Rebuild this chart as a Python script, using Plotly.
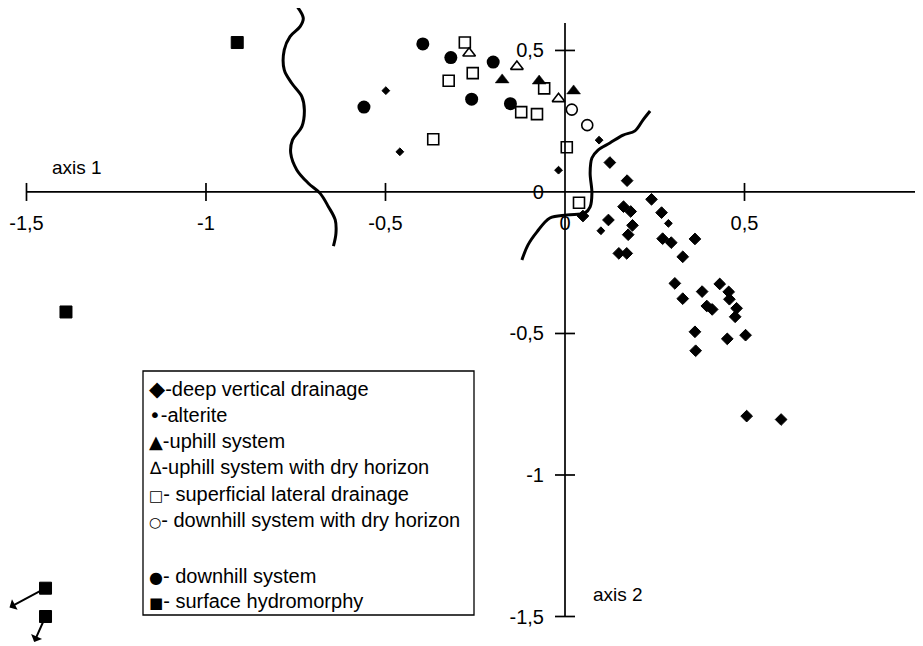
import plotly.graph_objects as go

# ---------------- data ----------------
deep_x = [0.125, 0.173, 0.241, 0.163, 0.183, 0.269, 0.050, 0.121, 0.188, 0.176, 0.272, 0.296,
          0.362, 0.150, 0.172, 0.328, 0.306, 0.328, 0.382, 0.395, 0.410, 0.431, 0.456, 0.458,
          0.478, 0.474, 0.362, 0.364, 0.452, 0.503, 0.506, 0.602]
deep_y = [0.104, 0.040, -0.026, -0.052, -0.069, -0.073, -0.085, -0.099, -0.118, -0.151, -0.165, -0.179,
          -0.166, -0.217, -0.217, -0.229, -0.323, -0.377, -0.352, -0.403, -0.415, -0.325, -0.353, -0.379,
          -0.411, -0.441, -0.494, -0.561, -0.519, -0.506, -0.792, -0.804]

alterite_x = [-0.499, -0.460, 0.095, -0.018, 0.100, 0.288]
alterite_y = [0.358, 0.142, 0.183, 0.077, -0.137, -0.111]

uphill_x = [-0.175, -0.072, 0.024]
uphill_y = [0.396, 0.392, 0.357]

uphill_dry_x = [-0.267, -0.134, -0.018]
uphill_dry_y = [0.490, 0.443, 0.329]

superficial_x = [-0.279, -0.257, -0.324, -0.058, -0.122, -0.078, -0.367, 0.005, 0.039]
superficial_y = [0.528, 0.420, 0.393, 0.366, 0.282, 0.275, 0.186, 0.158, -0.038]

downhill_dry_x = [0.019, 0.062]
downhill_dry_y = [0.291, 0.236]

downhill_x = [-0.396, -0.318, -0.200, -0.560, -0.260, -0.152]
downhill_y = [0.523, 0.475, 0.459, 0.300, 0.328, 0.312]

hydro_x = [-0.913, -1.390, -1.447, -1.447]
hydro_y = [0.528, -0.424, -1.400, -1.500]
hydro_offscale = [2, 3]          # points drawn at the border, real value beyond

boundary1_x = [-0.745, -0.729, -0.738, -0.766, -0.782, -0.782, -0.761, -0.733, -0.726, -0.733,
               -0.759, -0.764, -0.747, -0.715, -0.682, -0.659, -0.640, -0.638, -0.645]
boundary1_y = [0.653, 0.614, 0.584, 0.549, 0.502, 0.431, 0.384, 0.337, 0.290, 0.231,
               0.184, 0.137, 0.078, 0.031, -0.005, -0.052, -0.099, -0.146, -0.191]

boundary2_x = [0.237, 0.217, 0.195, 0.162, 0.125, 0.092, 0.075, 0.070, 0.075, 0.070, 0.056,
               0.006, -0.042, -0.078, -0.103, -0.120]
boundary2_y = [0.286, 0.254, 0.216, 0.201, 0.173, 0.148, 0.120, 0.067, -0.004, -0.053, -0.074,
               -0.081, -0.092, -0.141, -0.187, -0.240]

x_tickvals = [-1.5, -1, -0.5, 0, 0.5]
x_ticktext = ["-1,5", "-1", "-0,5", "0", "0,5"]
y_tickvals = [0.5, 0, -0.5, -1, -1.5]
y_ticktext = ["0,5", "0", "-0,5", "-1", "-1,5"]

legend_symbols = ["◆", "•", "▲", "∆", "□", "○", "●", "■"]
legend_labels = ["-deep vertical drainage", "-alterite", "-uphill system",
                 "-uphill system with dry horizon", "- superficial lateral drainage",
                 "- downhill system with dry horizon", "- downhill system",
                 "- surface hydromorphy"]

# ---------------- layout constants ----------------
W, H = 923, 646
OFF = 8                      # page body margin: figure pixel = page pixel - OFF
X_RANGE = [-1.5515, 1.0195]
Y_RANGE = [-1.6325, 0.650]
FONT = "Liberation Sans, Arial, sans-serif"
SYMFONT = "DejaVu Sans"
INK = "black"
sym_sizes = [21, 20, 18, 17, 15, 14, 16, 15]

def px(x):   # page pixel -> paper fraction (x)
    return (x - OFF) / W

def py(y):   # page pixel -> paper fraction (y)
    return 1 - (y - OFF) / H

fig = go.Figure()

# boundary curves
for bx, by in [(boundary1_x, boundary1_y), (boundary2_x, boundary2_y)]:
    fig.add_trace(go.Scatter(x=bx, y=by, mode="lines", line=dict(color=INK, width=3, shape="spline"),
                             hoverinfo="skip", showlegend=False))

def add_points(x, y, symbol, size, lw=0, name=""):
    fig.add_trace(go.Scatter(
        x=x, y=y, mode="markers", name=name, showlegend=False, cliponaxis=False,
        marker=dict(symbol=symbol, size=size, color=INK,
                    line=dict(color=INK, width=lw))))

add_points(deep_x, deep_y, "diamond", 9, 1, legend_labels[0])
add_points(alterite_x, alterite_y, "diamond", 6, 1, legend_labels[1])
add_points(uphill_x, uphill_y, "triangle-up", 12, 0.5, legend_labels[2])
add_points(uphill_dry_x, uphill_dry_y, "triangle-up-open", 11, 1.6, legend_labels[3])
add_points(superficial_x, superficial_y, "square-open", 11, 1.6, legend_labels[4])
add_points(downhill_dry_x, downhill_dry_y, "circle-open", 11, 1.6, legend_labels[5])
add_points(downhill_x, downhill_y, "circle", 13, 0, legend_labels[6])
add_points(hydro_x, hydro_y, "square", 12, 1, legend_labels[7])

# ---------------- custom crossing axes ----------------
shapes = []
shapes.append(dict(type="line", xref="x", yref="y", x0=x_tickvals[0], x1=X_RANGE[1], y0=0, y1=0,
                   line=dict(color=INK, width=1.7)))
shapes.append(dict(type="line", xref="x", yref="y", x0=0, x1=0, y0=y_tickvals[-1], y1=0.597,
                   line=dict(color=INK, width=1.7)))
for v in x_tickvals:
    if v == 0:
        continue
    shapes.append(dict(type="line", xref="x", yref="y", ysizemode="pixel", yanchor=0,
                       x0=v, x1=v, y0=-9, y1=9, line=dict(color=INK, width=1.7)))
for v in y_tickvals:
    if v == 0:
        continue
    shapes.append(dict(type="line", xref="x", yref="y", xsizemode="pixel", xanchor=0,
                       y0=v, y1=v, x0=-10, x1=10, line=dict(color=INK, width=1.7)))

# legend box
shapes.append(dict(type="rect", xref="paper", yref="paper",
                   x0=px(143), x1=px(474), y0=py(615), y1=py(371),
                   line=dict(color=INK, width=1.3), fillcolor="rgba(0,0,0,0)"))

annotations = []
# axis names
annotations.append(dict(x=-1.359, y=0.085, xref="x", yref="y", text="axis 1", showarrow=False,
                        font=dict(family=FONT, size=19, color=INK)))
annotations.append(dict(x=0.148, y=-1.424, xref="x", yref="y", text="axis 2", showarrow=False,
                        font=dict(family=FONT, size=19, color=INK)))

# legend lines
legend_rows = [389, 415, 441, 467, 494, 520, 576, 601]
for sym, lab, row, ss in zip(legend_symbols, legend_labels, legend_rows, sym_sizes):
    txt = f'<span style="font-family:{SYMFONT};font-size:{ss}px">{sym}</span>{lab}'
    annotations.append(dict(x=px(147), y=py(row), xref="paper", yref="paper",
                            xanchor="left", yanchor="middle", showarrow=False,
                            text=txt, font=dict(family=FONT, size=20, color=INK)))

# arrows for off-scale points
arrow_off = {2: (-38, 20), 3: (-12, 27)}
for i in hydro_offscale:
    ax, ay = arrow_off[i]
    annotations.append(dict(x=hydro_x[i], y=hydro_y[i], xref="x", yref="y", text="",
                            showarrow=True, ax=ax, ay=ay, arrowside="start", arrowhead=2,
                            arrowsize=1.7, arrowwidth=2, arrowcolor=INK, standoff=0, startstandoff=0))

fig.update_layout(
    width=W, height=H, margin=dict(l=0, r=0, t=0, b=0),
    paper_bgcolor="white", plot_bgcolor="white",
    showlegend=False, shapes=shapes, annotations=annotations,
    font=dict(family=FONT, size=20, color=INK),
    xaxis=dict(range=X_RANGE, domain=[0, 1], anchor="free",
               position=(0 - Y_RANGE[0]) / (Y_RANGE[1] - Y_RANGE[0]),
               showgrid=False, zeroline=False, showline=False, ticks="",
               tickvals=x_tickvals, ticktext=x_ticktext, ticklabelstandoff=17,
               tickfont=dict(family=FONT, size=20, color=INK), automargin=False, fixedrange=True),
    yaxis=dict(range=Y_RANGE, domain=[0, 1], anchor="free",
               position=(0 - X_RANGE[0]) / (X_RANGE[1] - X_RANGE[0]),
               showgrid=False, zeroline=False, showline=False, ticks="",
               tickvals=y_tickvals, ticktext=y_ticktext, ticklabelstandoff=21,
               tickfont=dict(family=FONT, size=20, color=INK), automargin=False, fixedrange=True),
)

fig.write_html("out.html")
